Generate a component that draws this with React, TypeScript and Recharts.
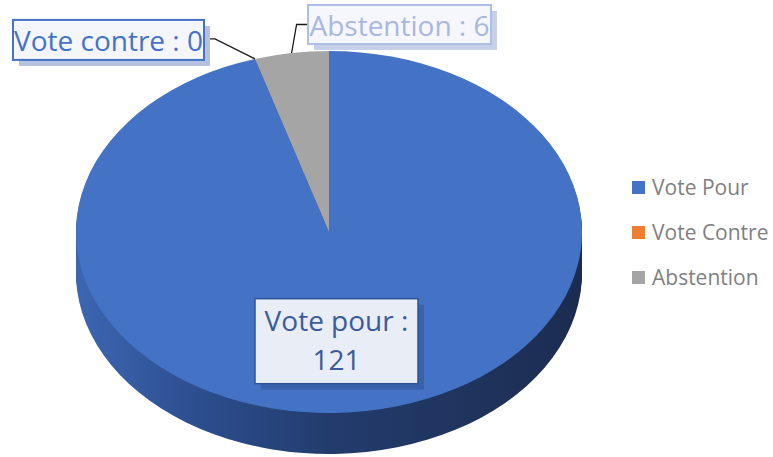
import React from 'react';
import { PieChart, Pie, Cell, Legend } from 'recharts';

const categories = ['Vote Pour', 'Vote Contre', 'Abstention'];
const labelNames = ['Vote pour', 'Vote contre', 'Abstention'];
const votes = [121, 0, 6];
const sliceColors = ['#4472C4', '#ED7D31', '#A5A5A5'];

const data = categories.map((name, i) => ({ name, value: votes[i], label: labelNames[i] }));

const W = 773;
const H = 457;
const CX = 329;
const CY = 232;
const RX = 253;
const RY = 181;
const K = RY / RX;
const DEPTH = 41;
const FONT = '"Open Sans", sans-serif';

const sideOffsets: number[] = [];
for (let t = DEPTH; t >= 1; t -= 2) sideOffsets.push(t);

const renderLabel = (props: any) => {
  const { cx, cy, midAngle, index } = props;
  const rad = (-midAngle * Math.PI) / 180;
  const cos = Math.cos(rad);
  const sin = Math.sin(rad);
  const entry = data[index];
  if (index === 0) {
    const bx = cx + RX * 0.2 * cos;
    const by = cy + RY * 0.61 * sin;
    const w = 163;
    const h = 85;
    return (
      <g key={`lbl-${index}`}>
        <rect x={bx - w / 2 + 6} y={by - h / 2 + 6} width={w} height={h} fill="#3a62ac" />
        <rect x={bx - w / 2} y={by - h / 2} width={w} height={h} fill="#e9edf6" stroke="#2f5597" strokeWidth={1.5} />
        <text x={bx} y={by - 10} textAnchor="middle" fontSize={28} fill="#3b5b9b" fontFamily={FONT}>
          {`${entry.label} :`}
        </text>
        <text x={bx} y={by + 29} textAnchor="middle" fontSize={28} fill="#3b5b9b" fontFamily={FONT}>
          {entry.value}
        </text>
      </g>
    );
  }
  const px = cx + RX * cos;
  const py = cy + RY * sin;
  if (index === 1) {
    const ex = px - 40;
    const ey = py - 20;
    const right = px - 51;
    const w = 191;
    const h = 40;
    const top = py - 39;
    return (
      <g key={`lbl-${index}`}>
        <polyline points={`${px},${py} ${ex},${ey} ${right},${ey}`} fill="none" stroke="#1a1a1a" strokeWidth={1.3} />
        <rect x={right - w + 6} y={top + 6} width={w} height={h} fill="#b4c2e0" />
        <rect x={right - w} y={top} width={w} height={h} fill="#f4f6fb" stroke="#4472C4" strokeWidth={2} />
        <text x={right - w / 2} y={top + 31} textAnchor="middle" fontSize={28} fill="#4472C4" fontFamily={FONT}>
          {`${entry.label} : ${entry.value}`}
        </text>
      </g>
    );
  }
  const ex = px + 5;
  const ey = py - 28.5;
  const left = px + 16.4;
  const w = 183;
  const h = 39;
  const top = py - 48;
  return (
    <g key={`lbl-${index}`}>
      <polyline points={`${px},${py} ${ex},${ey} ${left},${ey}`} fill="none" stroke="#1a1a1a" strokeWidth={1.3} />
      <rect x={left + 6} y={top + 6} width={w} height={h} fill="#c6d0e8" />
      <rect x={left} y={top} width={w} height={h} fill="#f5f7fc" stroke="#aebfe6" strokeWidth={2} />
      <text x={left + w / 2} y={top + 31} textAnchor="middle" fontSize={28} fill="#a8b8e0" fontFamily={FONT}>
        {`${entry.label} : ${entry.value}`}
      </text>
    </g>
  );
};

const LegendContent = (props: any) => {
  const seen = new Set<string>();
  const items = (props.payload || [])
    .filter((p: any) => {
      const c = String(p.color || '');
      if (c.startsWith('url') || c === 'none' || c === 'transparent') return false;
      if (seen.has(p.value)) return false;
      seen.add(p.value);
      return true;
    })
    .sort((a: any, b: any) => categories.indexOf(a.value) - categories.indexOf(b.value));
  return (
    <div style={{ fontFamily: FONT }}>
      {items.map((p: any) => (
        <div key={p.value} style={{ height: 45, display: 'flex', alignItems: 'center' }}>
          <span style={{ width: 13, height: 13, background: p.color, display: 'inline-block', marginRight: 7 }} />
          <span style={{ fontSize: 21, color: '#7f7f7f', lineHeight: '45px', whiteSpace: 'nowrap' }}>{p.value}</span>
        </div>
      ))}
    </div>
  );
};

export default function App() {
  return (
    <div style={{ position: 'absolute', left: 0, top: 0, width: W, height: H, background: '#fff' }}>
      <style>{`.pie-scaled { transform: scaleY(${K}); transform-origin: 0 0; } .pie-scaled .pie-scaled { transform: none; }`}</style>
      <svg width={0} height={0} style={{ position: 'absolute' }}>
        <defs>
          <linearGradient id="sideGrad" gradientUnits="userSpaceOnUse" x1={CX - RX} y1={0} x2={CX + RX} y2={0}>
            <stop offset="0" stopColor="#3d66b2" />
            <stop offset="0.25" stopColor="#2c4d8e" />
            <stop offset="0.5" stopColor="#233c6d" />
            <stop offset="1" stopColor="#1c2c50" />
          </linearGradient>
        </defs>
      </svg>
      <PieChart width={W} height={H} margin={{ top: 0, right: 0, bottom: 0, left: 0 }}>
        {sideOffsets.map((t) => (
          <Pie
            key={`side-${t}`}
            className="pie-scaled"
            data={data}
            dataKey="value"
            nameKey="name"
            cx={CX}
            cy={(CY + t) / K}
            outerRadius={RX}
            startAngle={90}
            endAngle={-270}
            stroke="none"
            legendType="none"
            isAnimationActive={false}
          >
            {data.map((d) => (
              <Cell key={d.name} fill="url(#sideGrad)" stroke="none" />
            ))}
          </Pie>
        ))}
        <Pie
          className="pie-scaled"
          data={data}
          dataKey="value"
          nameKey="name"
          cx={CX}
          cy={CY / K}
          outerRadius={RX}
          startAngle={90}
          endAngle={-270}
          stroke="none"
          isAnimationActive={false}
        >
          {data.map((d, i) => (
            <Cell key={d.name} fill={sliceColors[i]} stroke="none" />
          ))}
        </Pie>
        <Pie
          data={data}
          dataKey="value"
          nameKey="name"
          cx={CX}
          cy={CY}
          outerRadius={RX}
          startAngle={90}
          endAngle={-270}
          fill="none"
          stroke="none"
          legendType="none"
          label={renderLabel}
          labelLine={false}
          isAnimationActive={false}
        >
          {data.map((d) => (
            <Cell key={d.name} fill="none" stroke="none" />
          ))}
        </Pie>
        <Legend
          layout="vertical"
          verticalAlign="middle"
          align="right"
          content={<LegendContent />}
          wrapperStyle={{ left: 632, top: 165, right: 'auto', width: 141 }}
        />
      </PieChart>
    </div>
  );
}
